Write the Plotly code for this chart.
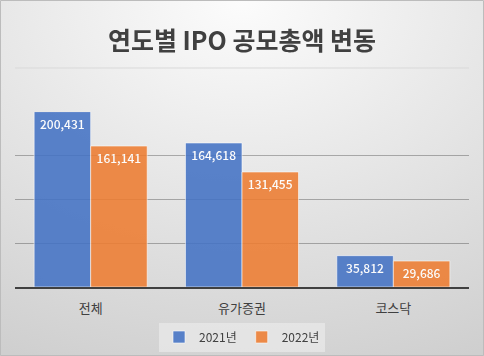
import plotly.graph_objects as go

categories = ["전체", "유가증권", "코스닥"]
series_names = ["2021년", "2022년"]
values_2021 = [200431, 164618, 35812]
values_2022 = [161141, 131455, 29686]
colors = ["#4472C4", "#ED7D31"]

W, H = 484, 356
L, R, T, B = 15, 15, 112, 69
PW, PH = W - L - R, H - T - B

FONT = "Noto Sans CJK KR, Malgun Gothic, sans-serif"

fig = go.Figure()
for name, vals, col in zip(series_names, [values_2021, values_2022], colors):
    fig.add_trace(go.Bar(
        x=categories, y=vals, name=name,
        marker=dict(color=col, line=dict(color="rgba(255,255,255,0.6)", width=1)),
        opacity=0.88,
        text=[f"{v:,}" for v in vals],
        textposition="inside", insidetextanchor="end", textangle=0,
        textfont=dict(color="white", size=12, family=FONT, weight=500),
        hoverinfo="skip",
    ))

svg = ("<svg xmlns='http://www.w3.org/2000/svg' width='484' height='356' preserveAspectRatio='none'>"
       "<defs><radialGradient id='g' cx='50%' cy='0%' r='110%' gradientUnits='objectBoundingBox'>"
       "<stop offset='0' stop-color='#fcfcfc'/><stop offset='1' stop-color='#cfcfcf'/></radialGradient></defs>"
       "<rect width='484' height='356' fill='url(#g)'/></svg>")
src = "data:image/svg+xml;charset=utf-8," + (svg.replace("#", "%23").replace("<", "%3C").replace(">", "%3E")
                                            .replace(" ", "%20").replace("'", "%27"))

fig.update_layout(
    width=W, height=H,
    margin=dict(l=L, r=R, t=T, b=B, pad=0, autoexpand=False),
    paper_bgcolor="#e4e4e4",
    plot_bgcolor="rgba(0,0,0,0)",
    barmode="group", bargap=0.253, bargroupgap=0.0,
    font=dict(family=FONT, color="#595959"),
    title=dict(text="<b>연도별 IPO 공모총액 변동</b>", x=0.5, xanchor="center",
               y=1 - 41 / H, yanchor="middle", yref="container",
               font=dict(size=25, color="#404040", family=FONT)),
    showlegend=True,
    legend=dict(orientation="h", x=0.5, xanchor="center", y=(0 - 50) / PH, yanchor="middle",
                bgcolor="rgba(240,240,240,0.55)", font=dict(size=12, color="#404040", family=FONT),
                itemwidth=30, traceorder="normal"),
    xaxis=dict(showgrid=False, showline=True, linecolor="#404040", linewidth=2,
               ticks="", tickfont=dict(size=13, color="#404040", family=FONT), ticklabelstandoff=8),
    yaxis=dict(range=[0, 200000], dtick=50000, showticklabels=False, showgrid=True,
               gridcolor="rgba(0,0,0,0.28)", gridwidth=1, zeroline=False, showline=False),
    images=[dict(source=src, xref="paper", yref="paper",
                 x=-L / PW, y=1 + T / PH, sizex=W / PW, sizey=H / PH,
                 xanchor="left", yanchor="top", sizing="stretch", layer="below")],
    shapes=[
        dict(type="line", xref="paper", yref="paper", x0=0, x1=1,
             y0=(287 - 68) / PH, y1=(287 - 68) / PH, line=dict(color="#d9d9d9", width=1)),
        dict(type="rect", xref="paper", yref="paper",
             x0=-(L - 0.5) / PW, x1=1 + (R - 0.5) / PW, y0=-(B - 0.5) / PH, y1=1 + (T - 0.5) / PH,
             line=dict(color="#bcbcbc", width=1)),
    ],
)

fig.write_html("out.html", config={"displayModeBar": False},
               post_script="document.body.style.margin='0';document.body.style.padding='0';")
